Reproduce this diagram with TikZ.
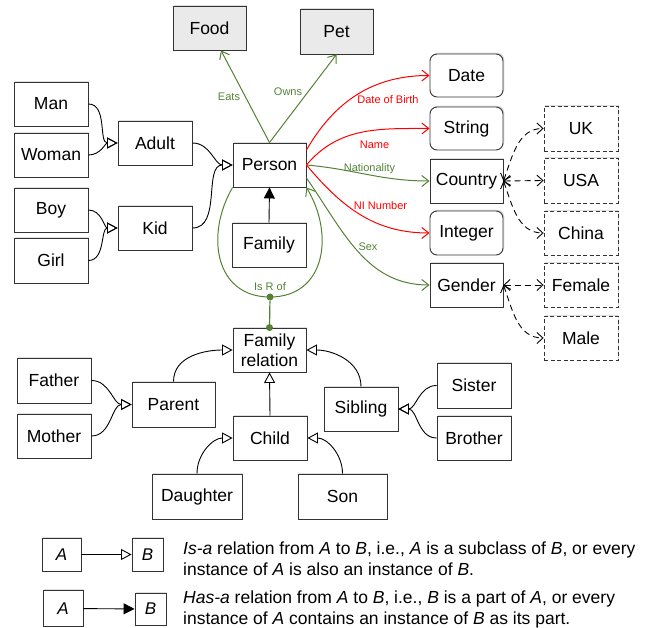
\documentclass[tikz,border=0pt]{standalone}
\usepackage{fontspec}
\setmainfont{Liberation Sans}
\usepackage{tikz}
\usetikzlibrary{arrows.meta}
\usetikzlibrary{shadows}
\definecolor{grn}{RGB}{84, 130, 53}
\definecolor{lightbox}{RGB}{234, 234, 234}
\tikzset{box/.style = {draw = black!80, fill = white, line width = 0.9, minimum width = 74, minimum height = 44, inner sep = 0, align = center, font = \fontsize{17.5}{20}\selectfont, drop shadow = {shadow xshift = 1.3, shadow yshift = -1.3, opacity = 0.25}}}
\tikzset{gbox/.style = {box, fill = lightbox}}
\tikzset{rbox/.style = {box, rounded corners = 7}}
\tikzset{dbox/.style = {box, dashed, dash pattern = on 4 off 2.5}}
\tikzset{legbox/.style = {box, minimum width = 39, minimum height = 33, font = \fontsize{17}{20}\selectfont\itshape}}
\tikzset{isa/.style = {draw, line width = 0.9, -{Triangle[open, length = 10.5pt, width = 11pt]}}}
\tikzset{hasa/.style = {draw, line width = 0.9, -{Triangle[length = 11pt, width = 11pt]}}}
\tikzset{rel/.style = {draw, line width = 1, -{Straight Barb[length = 7pt, width = 11pt]}}}
\tikzset{inst/.style = {draw, line width = 0.9, dashed, dash pattern = on 6 off 4, {Straight Barb[length = 6pt, width = 11pt]}-{Straight Barb[length = 6pt, width = 11pt]}}}
\tikzset{lbl/.style = {inner sep = 0, font = \fontsize{11}{13}\selectfont}}
\tikzset{gdot/.style = {fill = grn, circle, inner sep = 0, minimum size = 7}}
\tikzset{legtext/.style = {inner sep = 0, anchor = base west, align = left, font = \fontsize{17.5}{21}\selectfont}}

\begin{document}
\begin{tikzpicture}[x = 1pt, y = -1pt]
    \useasboundingbox (0, 0) rectangle (653, 628);

    % things a person has
    \node [gbox, minimum width = 73] (food) at (209.5, 28) {Food};
    \node [gbox, minimum width = 73, minimum height = 45] (pet) at (336.5, 31.5) {Pet};
    \node [box, minimum width = 73] (person) at (269.5, 165) {Person};

    \node [box] (man) at (51, 104) {Man};
    \node [box] (woman) at (51, 155) {Woman};
    \node [box] (boy) at (51, 210) {Boy};
    \node [box, minimum height = 45] (girl) at (51, 260.5) {Girl};
    \node [box] (adult) at (155, 143) {Adult};
    \node [box] (kid) at (155, 228) {Kid};
    \node [box] (family) at (269, 245) {Family};

    \node [box, minimum width = 73] (famrel) at (269.5, 350) {Family\\relation};
    \node [box, minimum height = 45] (father) at (54, 380.5) {Father};
    \node [box] (mother) at (54, 436) {Mother};
    \node [box, minimum width = 83, minimum height = 45] (parent) at (173.5, 404.5) {Parent};
    \node [box] (child) at (270, 438) {Child};
    \node [box, minimum width = 90, minimum height = 45] (daughter) at (197, 496.5) {Daughter};
    \node [box, minimum width = 89, minimum height = 45] (son) at (342.5, 496.5) {Son};
    \node [box] (sibling) at (361, 409) {Sibling};
    \node [box, minimum height = 45] (sister) at (474, 385.5) {Sister};
    \node [box] (brother) at (474, 438) {Brother};

    % value types
    \node [rbox, minimum width = 73, minimum height = 43] (date) at (466.5, 75.5) {Date};
    \node [rbox, minimum width = 73, minimum height = 43] (string) at (466.5, 128.5) {String};
    \node [box, minimum width = 73] (country) at (466.5, 181) {Country};
    \node [rbox, minimum width = 73] (integer) at (466.5, 233) {Integer};
    \node [box, minimum width = 73] (gender) at (466.5, 285) {Gender};

    \node [dbox, minimum height = 45] (uk) at (581, 128.5) {UK};
    \node [dbox, minimum height = 45] (usa) at (581, 180.5) {USA};
    \node [dbox] (china) at (581, 233) {China};
    \node [dbox] (female) at (581, 285) {Female};
    \node [dbox] (male) at (581, 338) {Male};

    % is-a
    \draw [isa] (man.east) to [out = 0, in = 180] (adult.west);
    \draw [isa] (woman.east) to [out = 0, in = 180] (adult.west);
    \draw [isa] (boy.east) to [out = 0, in = 180] (kid.west);
    \draw [isa] (girl.east) to [out = 0, in = 180] (kid.west);
    \draw [isa] (adult.east) to [out = 0, in = 180] (person.west);
    \draw [isa] (kid.east) to [out = 0, in = 180] (person.west);
    \draw [isa] (father.east) to [out = 0, in = 180] (parent.west);
    \draw [isa] (mother.east) to [out = 0, in = 180] (parent.west);
    \draw [isa] (sister.west) to [out = 180, in = 0] (sibling.east);
    \draw [isa] (brother.west) to [out = 180, in = 0] (sibling.east);
    \draw [isa] (parent.north) to [out = 90, in = 180] (famrel.west);
    \draw [isa] (sibling.north) to [out = 90, in = 0] (famrel.east);
    \draw [isa] (child.north) -- (famrel.south);
    \draw [isa] (daughter.north) to [out = 90, in = 180] (child.west);
    \draw [isa] (son.north) to [out = 90, in = 0] (child.east);

    % has-a
    \draw [hasa] (family.north) -- (person.south);

    % relations
    \draw [rel, grn] (person.north) -- ([xshift = 11.5]food.south);
    \draw [rel, grn] (person.north) -- (pet.south);
    \node [lbl, grn] (l-eats) at (229, 97) {Eats};
    \node [lbl, grn] (l-owns) at (288, 92) {Owns};

    \draw [rel, red] ([yshift = 15]person.east) to [out = 60, in = 180] (date.west);
    \draw [rel, red] (person.east) to [out = 50, in = 180] (string.west);
    \draw [rel, grn] (person.east) to [out = -5, in = 180] (country.west);
    \draw [rel, red] (person.east) to [out = -50, in = 180] (integer.west);
    \draw [rel, grn] ([yshift = -13]person.east) to [out = -55, in = 180] (gender.west);
    \node [lbl, red] (l-dob) at (388, 100) {Date of Birth};
    \node [lbl, red] (l-name) at (374.5, 145) {Name};
    \node [lbl, grn] (l-nat) at (369.5, 169) {Nationality};
    \node [lbl, red] (l-ni) at (380.5, 206) {NI Number};
    \node [lbl, grn] (l-sex) at (368, 247) {Sex};

    % is R of
    \node [gdot] (isr) at (270, 297) {};
    \node [gdot] (isr-end) at (famrel.north) {};
    \draw [rel, grn] (person.south west) .. controls (205, 235) and (215, 297) .. (isr.center)
        .. controls (325, 297) and (335, 235) .. (person.south east);
    \draw [grn, line width = 1.2] (isr) -- (isr-end);
    \node [lbl, grn] (l-isr) at (270, 287) {Is R of};

    % instances
    \draw [inst] (country.east) to [out = 70, in = 180] (uk.west);
    \draw [inst] (country.east) -- (usa.west);
    \draw [inst] (country.east) to [out = -70, in = 180] (china.west);
    \draw [inst] (gender.east) -- (female.west);
    \draw [inst] (gender.east) to [out = -70, in = 180] (male.west);

    % legend
    \node [legbox] (a1) at (61.5, 554.5) {A};
    \node [legbox, minimum width = 31] (b1) at (147.5, 554.5) {B};
    \node [legbox, minimum width = 40, minimum height = 36] (a2) at (63, 608.5) {A};
    \node [legbox, minimum width = 31, minimum height = 32] (b2) at (150.5, 609) {B};
    \draw [isa] (a1) -- (b1);
    \draw [hasa] (a2) -- (b2);
    \node [legtext] (t1) at (183, 575)
        {\textit{Is-a} relation from \textit{A} to \textit{B}, i.e., \textit{A} is a subclass of \textit{B}, or every\\instance of \textit{A} is also an instance of \textit{B}.};
    \node [legtext] (t2) at (183, 624)
        {\textit{Has-a} relation from \textit{A} to \textit{B}, i.e., \textit{B} is a part of \textit{A}, or every\\instance of \textit{A} contains an instance of \textit{B} as its part.};
\end{tikzpicture}
\end{document}
